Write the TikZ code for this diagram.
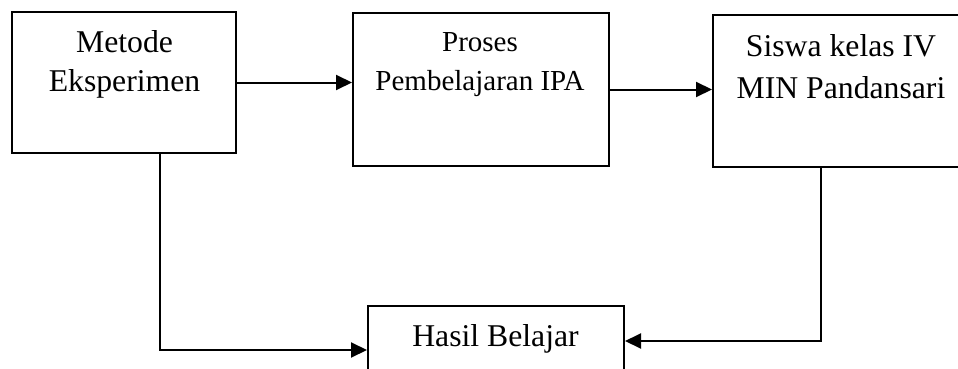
\documentclass[tikz,border=0pt]{standalone}
\usepackage{fontspec}
\setmainfont{Liberation Serif}
\usetikzlibrary{arrows.meta,positioning}

\tikzset{
  kotak/.style={draw, line width=2pt, inner sep=0pt},
  tulisan/.style={align=center, inner sep=0pt, anchor=base,
    font=\fontsize{31.7}{39.5}\selectfont},
  panah/.style={line width=2pt, -{Triangle[length=16pt,width=15pt]}}
}

\begin{document}
\begin{tikzpicture}[x=1pt, y=-1pt]
  \useasboundingbox (0,0) rectangle (958,369);
  \clip (0,0) rectangle (958,369);
  % kotak
  \node[kotak, minimum width=224pt, minimum height=141pt] (metode) at (124,82.5) {};
  \node[kotak, minimum width=256pt, minimum height=152pt] (proses) at (481,89.5) {};
  \node[kotak, minimum width=256pt, minimum height=151.5pt] (siswa) at (841,90.75) {};
  \node[kotak, minimum width=256pt, minimum height=80pt] (hasil) at (496,346) {};
  % tulisan (base = baris terakhir)
  \node[tulisan] (metode-teks) at (124.5,91.7) {Metode\\Eksperimen};
  \node[tulisan, font=\fontsize{29}{39}\selectfont] (proses-teks) at (480,90.7)
    {Proses\\Pembelajaran IPA};
  \node[tulisan, font=\fontsize{31.7}{41.6}\selectfont] (siswa-teks) at (841,98.3)
    {Siswa kelas IV\\MIN Pandansari};
  \node[tulisan] (hasil-teks) at (495.5,346) {Hasil Belajar};
  % panah
  \coordinate (belok1) at (160,350);
  \coordinate (belok2) at (821,341);
  \draw[panah] (metode.east) -- (metode.east -| proses.west);
  \draw[panah] (proses.east) -- (proses.east -| siswa.west);
  \draw[panah] (metode.south -| belok1) -- (belok1) -- (belok1 -| hasil.west);
  \draw[panah] (siswa.south -| belok2) -- (belok2) -- (belok2 -| hasil.east);
\end{tikzpicture}
\end{document}
